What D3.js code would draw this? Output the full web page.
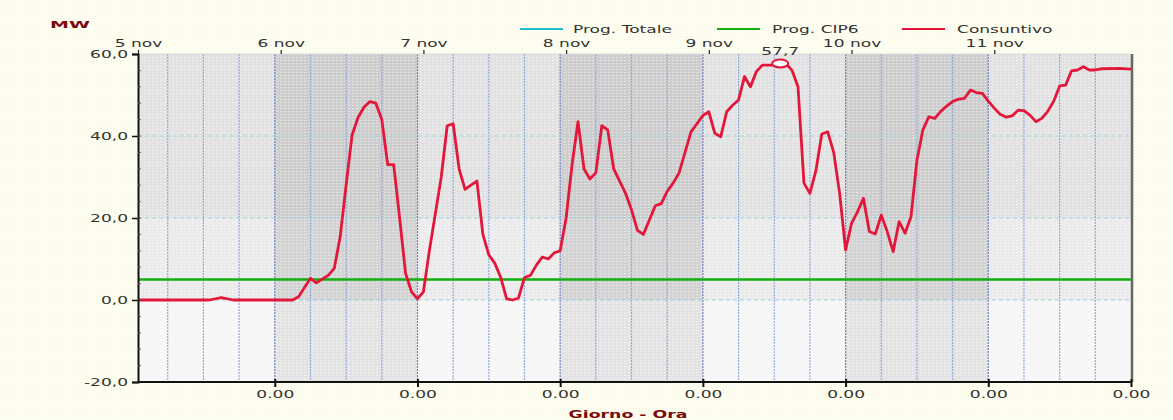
<!DOCTYPE html>
<html><head><meta charset="utf-8">
<script src="https://cdn.jsdelivr.net/npm/d3@7"></script>
<style>
html,body{margin:0;padding:0;background:#fefef0;}
svg{display:block;}
</style></head>
<body>
<svg id="chart" width="1173" height="420"></svg>
<script>
// ---- data ----
const dayLabels = ["5 nov","6 nov","7 nov","8 nov","9 nov","10 nov","11 nov"];
const dayStartHours = [1,24,48,72,96,120,144];       // band starts (hours from 5 nov 00:00)
const topTickHours = [1,25,49,73,97,121,145];         // day labels on top axis
const bottomTickHours = [24,48,72,96,120,144,168];    // "0.00" labels
const bottomTickLabels = ["0.00","0.00","0.00","0.00","0.00","0.00","0.00"];
const yTicks = [-20,0,20,40,60];
const yTickLabels = ["-20,0","0,0","20,0","40,0","60,0"];
const seriesNames = ["Prog. Totale","Prog. CIP6","Consuntivo"];
const seriesColors = ["#20c0d0","#10b010","#e3173a"];

const hours = [1,13,15,17,27,28,30,31,33,34,35,36,37,38,39,40,41,42,43,44,45,46,47,48,49,50,51,52,53,54,55,56,57,58,59,60,61,62,63,64,65,66,67,68,69,70,71,72,73,74,75,76,77,78,79,80,81,82,83,84,85,86,87,88,89,90,91,92,93,94,95,96,97,98,99,100,101,102,103,104,105,106,107,108,109,110,111,112,113,114,115,116,117,118,119,120,121,122,123,124,125,126,127,128,129,130,131,132,133,134,135,136,137,138,139,140,141,142,143,144,145,146,147,148,149,150,151,152,153,154,155,156,157,158,159,160,161,162,163,166,168];
const consuntivo = [0,0,0.6,0,0,0.8,5.3,4.2,6,7.7,15.4,28,40.2,44.5,47,48.4,48,44,33,33,20,6.5,2,0.3,2,12,21,30,42.5,43,32,27,28,29,16,11,9,5.5,0.3,0,0.5,5.5,6,8.5,10.5,10,11.5,12,20,33,43.5,32,29.5,31,42.5,41.5,32,29,26,22,17,16,19.5,23,23.5,26.5,28.5,31,36,41,43,45,45.9,40.7,39.8,45.9,47.5,48.8,54.5,52,55.7,57.3,57.3,57.3,57.7,57.6,56,52,28.5,26,31.5,40.5,41,36,26,12.2,18.7,21.5,24.8,16.7,16.1,20.7,16.7,11.8,19.1,16.3,20.3,34.1,41.5,44.7,44.3,46,47.3,48.4,49,49.2,51.2,50.6,50.4,48.5,46.8,45.3,44.6,44.9,46.3,46.2,45.1,43.5,44.3,46,48.5,52.2,52.4,55.9,56.1,56.9,56.1,56.1,56.4,56.5,56.3];
const cip6Hours = [1,168];
const cip6 = [5,5];
const maxHour = 109, maxValue = 57.7, maxLabel = "57,7";

// ---- layout ----
const SX = 1.55; // horizontal text stretch of the original
const pL = 138, pR = 1131, pT = 54, pB = 382;
const svg = d3.select("#chart");
const x = d3.scaleLinear().domain([1,168]).range([pL,pR]);
const y = d3.scaleLinear().domain([-20,60]).range([pB,pT]);

const defs = svg.append("defs");
const pat = defs.append("pattern").attr("id","dots").attr("patternUnits","userSpaceOnUse")
  .attr("width",4).attr("height",3);
pat.append("rect").attr("x",0).attr("y",0).attr("width",2).attr("height",1).attr("fill","#ffffff").attr("opacity",0.45);
const pat2 = defs.append("pattern").attr("id","bgdots").attr("patternUnits","userSpaceOnUse")
  .attr("width",3).attr("height",3);
pat2.append("rect").attr("x",0).attr("y",0).attr("width",1).attr("height",1).attr("fill","#f0f0d8").attr("opacity",0.6);
svg.append("rect").attr("width",1173).attr("height",420).attr("fill","url(#bgdots)");

// day bands
const g = svg.append("g");
dayStartHours.forEach((h,i)=>{
  const h2 = i<dayStartHours.length-1 ? dayStartHours[i+1] : 168;
  const even = i%2===1;
  const zones = even
    ? [[60,20,"#cdcdcd"],[20,0,"#d3d3d3"],[0,-20,"#e3e3e3"]]
    : [[60,20,"#e2e2e2"],[20,0,"#ebebeb"],[0,-20,"#f6f6f6"]];
  zones.forEach(z=>{
    g.append("rect").attr("x",x(h)).attr("width",x(h2)-x(h))
     .attr("y",y(z[0])).attr("height",y(z[1])-y(z[0])).attr("fill",z[2]);
  });
});
g.append("rect").attr("x",pL).attr("y",pT).attr("width",pR-pL).attr("height",pB-pT).attr("fill","url(#dots)");

// vertical grid every 6 h
const vGrid = d3.range(6,168,6).filter(h=>h>1);
g.selectAll("line.vg").data(vGrid).join("line")
  .attr("x1",d=>x(d)).attr("x2",d=>x(d)).attr("y1",pT).attr("y2",pB)
  .attr("stroke",d=>d%24===0?"#7080c8":"#90a8e0").attr("stroke-width",1.2)
  .attr("stroke-dasharray","2,1");
// horizontal grid
g.selectAll("line.hg").data([0,20,40]).join("line")
  .attr("x1",pL).attr("x2",pR).attr("y1",d=>y(d)).attr("y2",d=>y(d))
  .attr("stroke","#a0d0e0").attr("stroke-width",1).attr("stroke-dasharray","4,3");

// right shadow & top line
svg.append("line").attr("x1",pR+1).attr("x2",pR+1).attr("y1",pT).attr("y2",pB)
  .attr("stroke","#666").attr("stroke-width",2.5);
svg.append("line").attr("x1",pL).attr("x2",pR).attr("y1",pT).attr("y2",pT)
  .attr("stroke","#d8d8d8").attr("stroke-width",1);

// series
const line = d3.line().x(d=>x(d[0])).y(d=>y(d[1]));
svg.append("path").datum(cip6Hours.map((h,i)=>[h,cip6[i]])).attr("d",line)
  .attr("fill","none").attr("stroke",seriesColors[1]).attr("stroke-width",2.5);
svg.append("path").datum(hours.map((h,i)=>[h,consuntivo[i]])).attr("d",line)
  .attr("fill","none").attr("stroke",seriesColors[2]).attr("stroke-width",2.8)
  .attr("stroke-linejoin","round");

// max marker
svg.append("ellipse").attr("cx",x(maxHour)).attr("cy",y(maxValue)).attr("rx",8).attr("ry",4)
  .attr("fill","#fff").attr("stroke",seriesColors[2]).attr("stroke-width",2);

function stext(parent,tx,ty,str,opts={}){
  return parent.append("text")
    .attr("transform",`translate(${tx},${ty}) scale(${opts.sx||SX},1)`)
    .attr("text-anchor",opts.anchor||"start")
    .attr("font-family","DejaVu Sans, Verdana, sans-serif")
    .attr("font-size",opts.size||11)
    .attr("font-weight",opts.weight||"normal")
    .attr("fill",opts.fill||"#333")
    .text(str);
}
stext(svg,x(maxHour),55,maxLabel,{anchor:"middle"});

// axes
const fontFam = "DejaVu Sans, Verdana, sans-serif";
const yAxis = svg.append("g").attr("transform",`translate(${pL},0)`)
  .call(d3.axisLeft(y).tickValues(yTicks).tickSize(6).tickFormat((d,i)=>yTickLabels[i]));
yAxis.select(".domain").attr("stroke","#111").attr("stroke-width",2);
yAxis.selectAll(".tick line").attr("stroke","#111").attr("stroke-width",1.5);
yAxis.selectAll(".tick text").attr("x",-10/SX).attr("dy","0.35em").attr("transform",`scale(${SX},1)`)
  .attr("font-family",fontFam).attr("font-size",11).attr("fill","#333");
// minor ticks
svg.selectAll("line.minor").data(d3.range(-20,60,4)).join("line")
  .attr("x1",pL).attr("x2",pL+3).attr("y1",d=>y(d)).attr("y2",d=>y(d))
  .attr("stroke","#555").attr("stroke-width",1);

const xAxis = svg.append("g").attr("transform",`translate(0,${pB})`)
  .call(d3.axisBottom(x).tickValues(bottomTickHours).tickSize(5).tickPadding(3)
    .tickFormat((d,i)=>bottomTickLabels[i]));
xAxis.select(".domain").attr("stroke","#111").attr("stroke-width",2).attr("d",`M${pL},0H${pR}`);
xAxis.selectAll(".tick line").attr("stroke","#111").attr("stroke-width",2).attr("y1",-3);
xAxis.selectAll(".tick text").attr("transform",`scale(${SX},1)`)
  .attr("font-family",fontFam).attr("font-size",11).attr("fill","#333");

const topAxis = svg.append("g").attr("transform",`translate(0,${pT})`)
  .call(d3.axisTop(x).tickValues(topTickHours).tickSize(4).tickPadding(3)
    .tickFormat((d,i)=>dayLabels[i]));
topAxis.select(".domain").remove();
topAxis.selectAll(".tick line").attr("stroke","#222").attr("stroke-width",1.2);
topAxis.selectAll(".tick text").attr("transform",`scale(${SX},1)`)
  .attr("font-family",fontFam).attr("font-size",11).attr("fill","#333");

// titles
stext(svg,50,28,"MW",{size:9.5,weight:"bold",fill:"#7a0a0a",sx:2.0});
stext(svg,628,418,"Giorno - Ora",{anchor:"middle",size:10.5,weight:"bold",fill:"#7a0a0a",sx:1.65});

// legend
const legX = [520,717,902], legTextX = [573,772,957];
seriesNames.forEach((n,i)=>{
  svg.append("line").attr("x1",legX[i]).attr("x2",legX[i]+43).attr("y1",29).attr("y2",29)
    .attr("stroke",seriesColors[i]).attr("stroke-width",2);
  stext(svg,legTextX[i],33,n,{size:11});
});
</script>
</body></html>
